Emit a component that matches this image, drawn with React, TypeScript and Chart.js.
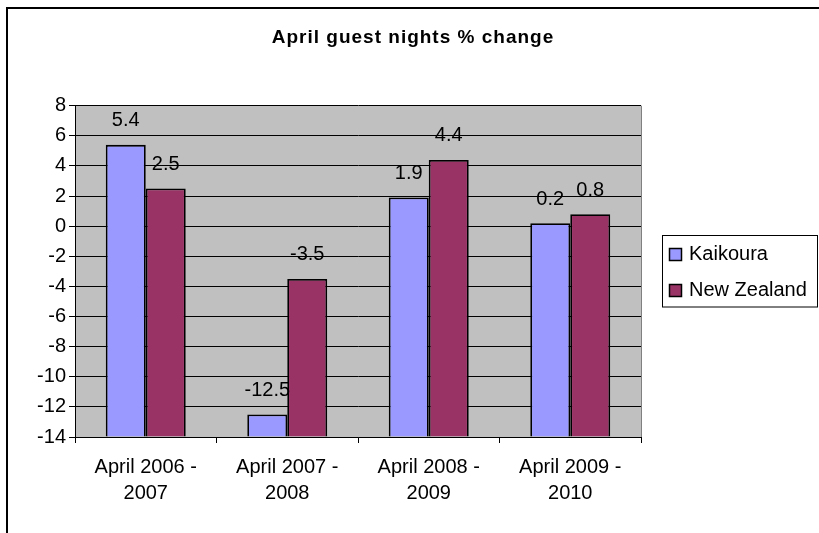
import { useEffect, useRef } from "react";
import { Chart, registerables } from "chart.js";

Chart.register(...registerables);

const chartTitle = "April guest nights % change";
const categories = [
  ["April 2006 -", "2007"],
  ["April 2007 -", "2008"],
  ["April 2008 -", "2009"],
  ["April 2009 -", "2010"],
];
const seriesNames = ["Kaikoura", "New Zealand"];
const kaikoura = [5.4, -12.5, 1.9, 0.2];
const newZealand = [2.5, -3.5, 4.4, 0.8];
const seriesColors = ["#9999FF", "#993366"];
const yMin = -14;
const yMax = 8;
const yStep = 2;

const FONT = "'Liberation Sans', Arial, sans-serif";

const decorPlugin = {
  id: "decor",
  beforeDraw(chart: any) {
    const { ctx, chartArea, width, height } = chart;
    ctx.save();
    ctx.fillStyle = "#ffffff";
    ctx.fillRect(0, 0, width, height);
    ctx.fillStyle = "#C0C0C0";
    ctx.fillRect(chartArea.left, chartArea.top, chartArea.right - chartArea.left, chartArea.bottom - chartArea.top);
    // outer frame (top and left visible)
    ctx.strokeStyle = "#000000";
    ctx.lineWidth = 2;
    ctx.beginPath();
    ctx.moveTo(7, height);
    ctx.lineTo(7, 8);
    ctx.lineTo(width, 8);
    ctx.stroke();
    // title
    ctx.font = `bold 19px ${FONT}`;
    (ctx as any).letterSpacing = "1px";
    ctx.fillStyle = "#000000";
    ctx.textAlign = "center";
    ctx.textBaseline = "middle";
    ctx.fillText(chart.options.plugins.customTitle.text, 413, 38);
    ctx.restore();
  },
  afterDatasetsDraw(chart: any) {
    const { ctx } = chart;
    ctx.save();
    ctx.font = `20px ${FONT}`;
    ctx.fillStyle = "#000000";
    ctx.textAlign = "center";
    ctx.textBaseline = "middle";
    chart.data.datasets.forEach((ds: any, i: number) => {
      const meta = chart.getDatasetMeta(i);
      meta.data.forEach((bar: any, j: number) => {
        ctx.fillText(String(ds.data[j]), bar.x, bar.y - 24);
      });
    });
    ctx.restore();
  },
  afterDraw(chart: any) {
    const { ctx, chartArea } = chart;
    ctx.save();
    // plot right edge
    ctx.strokeStyle = "#808080";
    ctx.lineWidth = 1;
    ctx.beginPath();
    ctx.moveTo(chartArea.right + 0.5, chartArea.top);
    ctx.lineTo(chartArea.right + 0.5, chartArea.bottom);
    ctx.stroke();
    // legend
    const lx = chartArea.right + 21;
    const ly = 235.5;
    ctx.strokeStyle = "#000000";
    ctx.strokeRect(lx + 0.5, ly, 155, 71.5);
    ctx.font = `20px ${FONT}`;
    ctx.textAlign = "left";
    ctx.textBaseline = "middle";
    chart.data.datasets.forEach((ds: any, i: number) => {
      const cy = 254.5 + i * 36;
      ctx.fillStyle = ds.backgroundColor;
      ctx.fillRect(lx + 7.5, cy - 6, 12, 12);
      ctx.lineWidth = 1.5;
      ctx.strokeStyle = "#000000";
      ctx.strokeRect(lx + 7.5, cy - 6, 12, 12);
      ctx.fillStyle = "#000000";
      ctx.fillText(ds.label, lx + 27, cy);
    });
    ctx.restore();
  },
};

export default function App() {
  const ref = useRef<HTMLCanvasElement | null>(null);
  useEffect(() => {
    document.body.style.margin = "0";
    if (!ref.current) return;
    const chart = new Chart(ref.current, {
      type: "bar",
      data: {
        labels: categories,
        datasets: [
          {
            label: seriesNames[0],
            data: kaikoura,
            backgroundColor: seriesColors[0],
            borderColor: "#000000",
            borderWidth: 1.8,
            base: yMin,
          } as any,
          {
            label: seriesNames[1],
            data: newZealand,
            backgroundColor: seriesColors[1],
            borderColor: "#000000",
            borderWidth: 1.8,
            base: yMin,
          } as any,
        ],
      },
      options: {
        responsive: false,
        animation: false,
        devicePixelRatio: 1,
        layout: { padding: { left: 0, right: 178, top: 105.7, bottom: 0 } },
        datasets: { bar: { categoryPercentage: 0.565, barPercentage: 1 } },
        plugins: {
          legend: { display: false },
          tooltip: { enabled: false },
          title: { display: false },
          customTitle: { text: chartTitle },
        } as any,
        scales: {
          x: {
            afterFit: (s: any) => {
              s.height = 96;
            },
            grid: { drawOnChartArea: false, drawTicks: true, tickLength: 6, color: "#000000" },
            border: { color: "#000000", width: 1 },
            ticks: {
              color: "#000000",
              font: { family: FONT, size: 20, lineHeight: 1.3 },
              padding: 11,
              maxRotation: 0,
              autoSkip: false,
            },
          },
          y: {
            min: yMin,
            max: yMax,
            afterFit: (s: any) => {
              s.width = 75;
            },
            grid: { color: "#000000", tickLength: 6, lineWidth: 1 },
            border: { color: "#000000", width: 1 },
            ticks: {
              stepSize: yStep,
              color: "#000000",
              font: { family: FONT, size: 20 },
              padding: 3,
            },
          },
        },
      },
      plugins: [decorPlugin],
    });
    return () => chart.destroy();
  }, []);
  return <canvas ref={ref} width={819} height={533} style={{ display: "block" }} />;
}
